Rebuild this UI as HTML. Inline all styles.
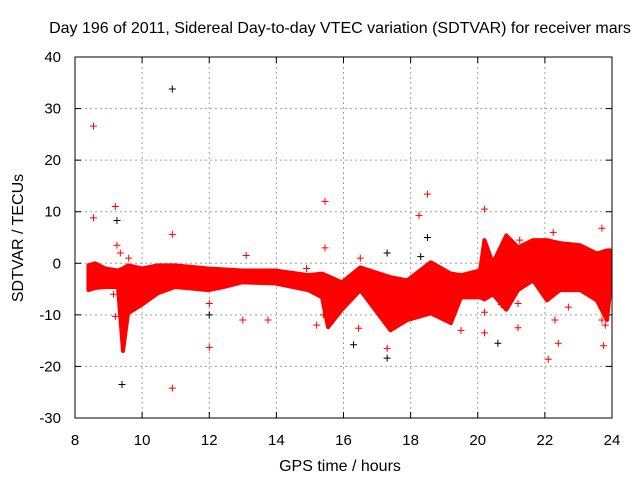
<!DOCTYPE html>
<html><head><meta charset="utf-8"><style>
body{margin:0;background:#fff}
svg text{font-family:"Liberation Sans",sans-serif;fill:#000}
</style></head><body>
<svg id="c" width="640" height="480" xmlns="http://www.w3.org/2000/svg" style="position:absolute;left:0;top:0"></svg>
<script>
const xTicks=[8,10,12,14,16,18,20,22,24];
const yTicks=[-30,-20,-10,0,10,20,30,40];
const bandTime=[8.4,8.6,8.9,9.28,9.43,9.58,10,10.47,10.98,11.97,12.5,12.98,13.96,14.95,15.36,15.54,15.95,16.5,17.4,17.9,18.6,19.2,19.5,20.07,20.2,20.45,20.85,21.2,21.65,22.06,22.45,23.05,23.55,23.85,23.95];
const bandUpper=[-0.4,0,-1,-1.4,-1,-0.4,-1,-0.4,-0.4,-1,-1.2,-1.4,-1.4,-2.3,-2,-2.5,-3.7,-0.8,-2.7,-3.3,0.2,-2,-2.3,-1.4,4.5,0,5.4,3.1,4.5,4.5,3.9,3.5,1.9,2.5,2.5];
const bandLower=[-5.2,-4.8,-4.6,-4.6,-17,-9.7,-8,-5.8,-4.6,-5.2,-4.5,-3.7,-3.9,-5.2,-6.6,-12.4,-9,-5.2,-13,-11,-9.7,-11.6,-6.6,-6.6,-7,-6,-9,-5.2,-3.3,-7.2,-5.2,-5.2,-7.2,-11,-5];
const redT=[8.55,8.55,9.2,9.25,9.35,9.2,9.15,10.9,10.9,12,12,13,13.75,15.2,15.45,15.45,15.4,16.45,16.5,17.3,18.25,18.5,17.45,19.5,20.2,20.2,20.2,21.2,21.25,22.1,22.4,22.3,22.25,23.7,23.75,23.7,23.8,21.2,9.6,13.1,14.9,18.6,20.7,22.7];
const redV=[26.6,8.8,11,3.5,2,-10.3,-6,5.6,-24.2,-16.3,-7.8,-11,-11,-12,12,3,-10,-12.6,1,-16.5,9.3,13.4,-12,-13,10.5,-13.5,-9.5,-12.5,4.5,-18.6,-15.5,-11,6,6.8,-16,-11,-12,-7.8,1,1.5,-1,-2,-8,-8.5];
const blackT=[10.9,9.25,9.4,12,16.3,17.3,17.3,18.5,18.3,20.6];
const blackV=[33.8,8.3,-23.5,-10,-15.8,-18.4,2,5,1.3,-15.5];

const L=75,R=612,T=57,B=418;
const X=t=>L+(t-8)/16*(R-L);
const Y=v=>B-(v+30)/70*(B-T);
const svg=document.getElementById('c');
const NS='http://www.w3.org/2000/svg';
function mk(tag,attrs,parent){const e=document.createElementNS(NS,tag);for(const k in attrs)e.setAttribute(k,attrs[k]);(parent||svg).appendChild(e);return e;}

for(const t of xTicks){
  if(t>8&&t<24){const g=mk('line',{x1:X(t),x2:X(t),y1:T,y2:B,stroke:'#a0a0a0','stroke-dasharray':'2,3'});
  
  }
  mk('line',{x1:X(t),x2:X(t),y1:B,y2:B-6,stroke:'#000'});
  mk('line',{x1:X(t),x2:X(t),y1:T,y2:T+6,stroke:'#000'});
  const tx=mk('text',{x:X(t),y:B+27,'text-anchor':'middle','font-size':'15'});
  tx.textContent=t;
  
  
}
for(const v of yTicks){
  if(v>-30&&v<40){const g=mk('line',{x1:L,x2:R,y1:Y(v),y2:Y(v),stroke:'#a0a0a0','stroke-dasharray':'2,3'});
  
  }
  mk('line',{x1:L,x2:L+6,y1:Y(v),y2:Y(v),stroke:'#000'});
  mk('line',{x1:R,x2:R-6,y1:Y(v),y2:Y(v),stroke:'#000'});
  const tx=mk('text',{x:L-14,y:Y(v)+5,'text-anchor':'end','font-size':'15'});
  tx.textContent=v;
  
  
}
let d='';
bandTime.forEach((t,i)=>{d+=(i?'L':'M')+X(t)+','+Y(bandUpper[i]);});
for(let i=bandTime.length-1;i>=0;i--)d+='L'+X(bandTime[i])+','+Y(bandLower[i]);
const band=mk('path',{d:d+'Z',fill:'#ff0000',stroke:'#ff0000','stroke-width':'4','stroke-linejoin':'round'});


function plus(t,v,col,name){
  const x=X(t),y=Y(v);
  const p=mk('path',{d:`M${x-3.5},${y}H${x+3.5}M${x},${y-3.5}V${y+3.5}`,stroke:col,'stroke-width':'1'});
  
  
}
redT.forEach((t,i)=>plus(t,redV[i],'#ff0000','red-point'));
blackT.forEach((t,i)=>plus(t,blackV[i],'#000000','black-point'));
const fr=mk('rect',{x:L,y:T,width:R-L,height:B-T,fill:'none',stroke:'#000'});


</script>
<div style="position:absolute;left:0;top:0;width:640px;height:480px;pointer-events:none">
<svg width="640" height="480" xmlns="http://www.w3.org/2000/svg">
<text x="340" y="33" text-anchor="middle" font-size="16" font-family="Liberation Sans, sans-serif">Day 196 of 2011, Sidereal Day-to-day VTEC variation (SDTVAR) for receiver mars</text>
<text x="340" y="471" text-anchor="middle" font-size="16" font-family="Liberation Sans, sans-serif">GPS time / hours</text>
<text transform="translate(23,238) rotate(-90)" text-anchor="middle" font-size="16" font-family="Liberation Sans, sans-serif">SDTVAR / TECUs</text>
</svg></div>
</body></html>
